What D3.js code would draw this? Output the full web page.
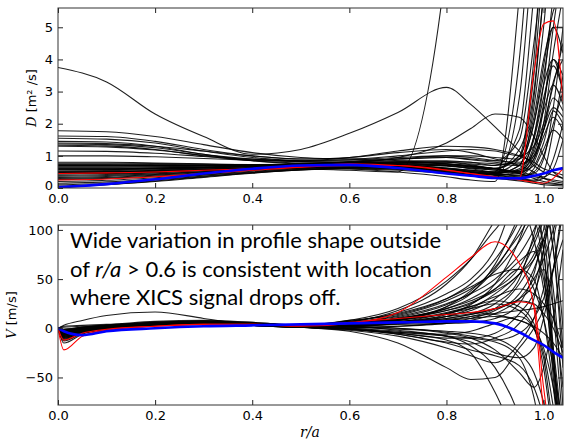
<!DOCTYPE html>
<html>
<head>
<meta charset="utf-8">
<script src="https://cdn.jsdelivr.net/npm/d3@7/dist/d3.min.js"></script>
<style>
  body { margin: 0; background: #fff; }
  .tick text { font-family: "DejaVu Sans", sans-serif; font-size: 13px; fill: #000; }
  .tick line { stroke: #222; }
</style>
</head>
<body>
<div id="chart"></div>
<script>
// ---- data ----
// radial knots (r/a) for the D profiles
const xKnotsD = [0, 0.1, 0.2, 0.3, 0.4, 0.5, 0.6, 0.7, 0.8, 0.85, 0.9, 0.95, 0.98, 1.0, 1.02, 1.04];
// black D samples [m^2/s]
const dBlack = [
  [3.75, 3.3, 2.3, 1.6, 1.05, 1.2, 1.7, 2.35, 3.13, 2.6, 1.9, 1.15, 0.7, 0.5, 0.4, 0.3],
  [0.6, 0.6, 0.62, 0.65, 0.7, 0.75, 0.8, 0.95, 1.4, 1.85, 2.3, 2.2, 1.6, 1.0, 0.5, 0.3],
  [0.5, 0.5, 0.55, 0.6, 0.62, 0.6, 0.55, 0.5, 7, 15, 20, 20, 20, 20, 20, 20],
  [1.78, 1.75, 1.6, 1.35, 1.1, 0.95, 0.9, 0.85, 0.75, 0.65, 0.6, 1.2, 3.0, 6, 8, 9],
  [1.62, 1.6, 1.45, 1.2, 1.0, 0.9, 0.95, 1.1, 1.2, 1.1, 0.9, 0.7, 0.5, 0.3, 0.2, 0.15],
  [1.55, 1.52, 1.4, 1.15, 0.95, 0.85, 0.85, 0.9, 0.95, 0.9, 0.85, 1.5, 4.5, 7, 9, 9],
  [1.45, 1.43, 1.3, 1.05, 0.85, 0.75, 0.72, 0.75, 0.7, 0.6, 0.5, 0.5, 1.2, 2.6, 4.0, 3.5],
  [1.4, 1.38, 1.3, 1.15, 1.0, 0.9, 0.9, 1.0, 1.15, 1.2, 1.15, 1.0, 1.3, 2.0, 3.2, 4.5],
  [1.37, 1.35, 1.25, 1.05, 0.9, 0.85, 0.95, 1.15, 1.3, 1.28, 1.2, 1.0, 0.8, 0.6, 0.5, 0.4],
  [1.33, 1.31, 1.2, 1.0, 0.85, 0.78, 0.8, 0.85, 0.85, 0.8, 0.7, 0.9, 2.2, 4.0, 5.0, 4.2],
  [1.3, 1.28, 1.18, 1.02, 0.9, 0.85, 0.88, 0.95, 1.0, 0.95, 0.85, 0.8, 1.6, 3.2, 6, 8],
  [1.15, 1.14, 1.08, 0.98, 0.88, 0.82, 0.8, 0.8, 0.75, 0.7, 0.6, 0.45, 0.3, 0.2, 0.15, 0.1],
  [1.0, 1.0, 0.97, 0.92, 0.86, 0.82, 0.8, 0.78, 0.72, 0.68, 0.62, 1.0, 2.8, 6, 8, 8],
  [0.8, 0.8, 0.78, 0.75, 0.72, 0.7, 0.72, 0.78, 0.8, 0.75, 0.7, 1.8, 6, 9, 9, 9],
  [0.77, 0.77, 0.76, 0.74, 0.73, 0.74, 0.78, 0.82, 0.8, 0.72, 0.6, 0.5, 0.9, 1.8, 3.3, 4.0],
  [0.74, 0.74, 0.73, 0.72, 0.72, 0.73, 0.75, 0.72, 0.6, 0.5, 0.4, 0.35, 0.5, 1.0, 2.0, 3.0],
  [0.72, 0.72, 0.71, 0.71, 0.72, 0.75, 0.82, 0.9, 0.95, 0.88, 0.8, 0.75, 1.0, 1.8, 2.5, 2.2],
  [0.71, 0.71, 0.7, 0.7, 0.71, 0.74, 0.8, 0.9, 1.0, 1.0, 0.95, 0.9, 2.0, 3.8, 5.5, 6],
  [0.68, 0.68, 0.68, 0.69, 0.7, 0.72, 0.73, 0.7, 0.6, 0.52, 0.45, 0.6, 1.5, 2.8, 3.8, 3.0],
  [0.65, 0.65, 0.66, 0.68, 0.7, 0.74, 0.78, 0.8, 0.75, 0.68, 0.6, 0.5, 0.4, 0.35, 0.6, 1.5],
  [0.62, 0.62, 0.63, 0.65, 0.68, 0.7, 0.7, 0.65, 0.55, 0.48, 0.42, 0.45, 0.9, 2.0, 4.2, 6],
  [0.6, 0.6, 0.61, 0.64, 0.68, 0.72, 0.76, 0.8, 0.82, 0.8, 0.75, 0.7, 1.1, 2.5, 5, 7],
  [0.58, 0.58, 0.6, 0.63, 0.67, 0.72, 0.75, 0.72, 0.62, 0.55, 0.48, 0.55, 1.6, 3.2, 4.0, 3.0],
  [0.56, 0.57, 0.59, 0.62, 0.66, 0.7, 0.72, 0.7, 0.62, 0.55, 0.5, 0.9, 3.5, 7, 9, 9],
  [0.53, 0.54, 0.57, 0.62, 0.67, 0.72, 0.76, 0.76, 0.7, 0.62, 0.55, 0.45, 0.35, 0.3, 0.25, 0.2],
  [0.5, 0.51, 0.54, 0.58, 0.63, 0.68, 0.72, 0.72, 0.68, 0.62, 0.56, 0.5, 0.7, 1.4, 2.4, 2.0],
  [0.48, 0.49, 0.52, 0.57, 0.62, 0.68, 0.7, 0.66, 0.55, 0.48, 0.4, 0.3, 0.25, 0.5, 1.8, 3.5],
  [0.44, 0.45, 0.49, 0.55, 0.62, 0.68, 0.7, 0.66, 0.56, 0.5, 0.45, 0.7, 2.5, 5.0, 8, 9],
  [0.4, 0.42, 0.47, 0.54, 0.61, 0.67, 0.7, 0.68, 0.6, 0.55, 0.5, 0.55, 1.0, 1.8, 2.8, 2.4],
  [0.37, 0.39, 0.44, 0.51, 0.58, 0.64, 0.66, 0.62, 0.5, 0.42, 0.33, 0.25, 0.2, 0.15, 0.12, 0.1],
  [0.33, 0.36, 0.42, 0.5, 0.58, 0.65, 0.7, 0.72, 0.7, 0.66, 0.6, 1.0, 4.0, 8, 9, 9],
  [0.3, 0.33, 0.4, 0.48, 0.56, 0.62, 0.64, 0.6, 0.52, 0.46, 0.4, 0.5, 1.3, 2.4, 3.2, 2.6],
  [0.26, 0.3, 0.37, 0.46, 0.55, 0.62, 0.66, 0.64, 0.56, 0.5, 0.44, 0.38, 0.45, 0.9, 2.5, 5],
  [0.2, 0.24, 0.32, 0.42, 0.52, 0.6, 0.64, 0.62, 0.55, 0.5, 0.45, 0.4, 0.8, 1.6, 2.2, 1.8],
  [0.15, 0.19, 0.28, 0.4, 0.5, 0.58, 0.62, 0.6, 0.5, 0.42, 0.35, 0.28, 0.22, 0.3, 0.9, 2.0],
  [0.1, 0.15, 0.25, 0.37, 0.48, 0.57, 0.6, 0.55, 0.45, 0.38, 0.3, 0.22, 0.15, 0.1, 0.08, 0.06],
  [0.06, 0.11, 0.22, 0.35, 0.47, 0.56, 0.62, 0.62, 0.56, 0.5, 0.45, 0.7, 2.0, 3.5, 5, 5],
  [0.04, 0.1, 0.2, 0.33, 0.46, 0.56, 0.6, 0.58, 0.48, 0.42, 0.35, 0.3, 0.6, 1.2, 1.8, 1.5],
  [0.5, 0.5, 0.52, 0.55, 0.6, 0.65, 0.6, 0.5, 0.35, 0.25, 0.2, 6, 12, 15, 15, 15],
  [0.7, 0.7, 0.7, 0.7, 0.7, 0.7, 0.7, 0.65, 0.5, 0.4, 0.5, 4.0, 10, 15, 15, 15],
  [0.45, 0.46, 0.5, 0.56, 0.63, 0.7, 0.75, 0.7, 0.55, 0.45, 0.3, 2.8, 8, 12, 12, 12]
];
const dRed = [
  [0.45, 0.47, 0.5, 0.55, 0.6, 0.65, 0.7, 0.7, 0.56, 0.45, 0.32, 0.3, 3.6, 5.1, 5.2, 2.7],
  [0.25, 0.28, 0.35, 0.45, 0.55, 0.65, 0.75, 0.7, 0.55, 0.45, 0.35, 0.25, 0.18, 0.15, 0.3, 0.6]
];
const dBlue = [0.02, 0.12, 0.27, 0.45, 0.6, 0.7, 0.72, 0.62, 0.45, 0.38, 0.31, 0.3, 0.38, 0.45, 0.55, 0.62];

// radial knots for the V profiles
const xKnotsV = [0, 0.012, 0.05, 0.1, 0.2, 0.3, 0.4, 0.5, 0.6, 0.7, 0.8, 0.85, 0.9, 0.95, 0.98, 1.0, 1.02, 1.04];
// black V samples [m/s]
const vBlack = [
  [0, 3, 8, 13, 16.5, 10, 3, 1, 2, 5, 10, 14, 20, 30, 45, 80, 130, 150],
  [0, -15, -6, -1, 3, 5, 4, 2, 6, 18, 45, 70, 110, 150, 140, 80, -40, -150],
  [0, -10, -4, 0, 4, 6, 5, 3, 8, 14, 30, 45, 70, 110, 150, 130, 20, -100],
  [0, -7, -3, 1, 5, 6, 5, 2, 3, 8, 22, 38, 62, 95, 115, 80, -30, -150],
  [0, -4, -1, 2, 6, 7, 5, 3, 5, 10, 18, 25, 40, 60, 50, 10, -60, -150],
  [0, 2, 3, 4, 7, 8, 6, 3, 2, 5, 12, 20, 35, 55, 70, 90, 120, 150],
  [0, -12, -5, 0, 3, 4, 3, 1, -2, -8, -20, -28, -35, -15, 10, 40, 90, 140],
  [0, -8, -3, 0, 4, 5, 4, 1, -3, -15, -40, -52, -50, -20, 0, 20, 60, 120],
  [0, -5, -2, 1, 5, 6, 4, 1, -1, -5, -12, -25, -65, -120, -150, -150, -150, -150],
  [0, -3, 0, 2, 5, 6, 4, 2, 0, -3, -8, -18, -40, -90, -140, -150, -150, -150],
  [0, -9, -4, 0, 4, 5, 4, 2, 4, 8, 15, 22, 32, 40, 35, 25, 10, -20],
  [0, -6, -2, 1, 5, 6, 5, 3, 5, 7, 10, 14, 20, 28, 25, 15, 0, -25],
  [0, 1, 2, 3, 6, 7, 5, 2, 1, 0, -4, -8, -12, -5, 10, 30, 60, 90],
  [0, -2, 0, 2, 5, 6, 5, 3, 4, 6, 9, 12, 15, 18, 20, 22, 25, 28],
  [0, -11, -5, -1, 3, 5, 4, 2, 7, 15, 30, 42, 55, 60, 40, 10, -40, -100],
  [0, -4, -1, 2, 5, 7, 6, 3, 8, 20, 48, 70, 100, 125, 90, 40, -30, -120],
  [0, -6, -2, 1, 4, 5, 3, 1, 3, 6, 12, 18, 30, 55, 85, 110, 140, 150],
  [0, -3, 0, 2, 4, 4, 3, 1, -1, -5, -10, -10, -5, 15, 35, 60, 20, -60],
  [0, -8, -3, 0, 3, 4, 3, 1, 0, 2, 6, 10, 18, 35, 60, 90, 140, 150],
  [0, -2, 1, 3, 6, 7, 5, 2, 3, 5, 8, 10, 12, 8, 0, -20, -60, -120],
  [0, -5, -2, 1, 4, 5, 4, 2, -1, -6, -15, -22, -28, -38, -60, -90, -130, -150],
  [0, -9, -4, 0, 3, 5, 4, 2, 6, 12, 25, 35, 50, 75, 100, 120, 80, -20],
  [0, -1, 1, 3, 5, 6, 5, 3, 4, 8, 16, 22, 28, 22, 5, -25, -80, -150],
  [0, -13, -5, 0, 4, 5, 4, 2, 2, 0, -5, -10, -22, -45, -60, -40, 10, 80],
  [0, -7, -3, 0, 3, 5, 4, 2, 5, 10, 20, 28, 40, 62, 90, 115, 150, 150],
  [0, -4, -1, 2, 5, 6, 4, 2, 4, 9, 14, 16, 14, 8, 2, -5, -15, -30],
  [0, -6, -2, 1, 4, 5, 3, 1, 2, 4, 5, 6, 10, 25, 55, 90, 40, -80],
  [0, -3, 0, 2, 5, 7, 5, 3, 6, 13, 28, 40, 58, 88, 110, 60, -50, -150],
  [0, -10, -4, 0, 3, 4, 3, 1, -1, -4, -8, -10, -14, -30, -70, -120, -150, -150],
  [0, -2, 1, 3, 5, 6, 5, 3, 6, 10, 20, 30, 45, 68, 78, 50, -20, -110],
  [0, -5, -2, 1, 4, 6, 5, 3, 5, 11, 24, 36, 60, 100, 130, 150, 150, 150],
  [0, -4, -2, 1, 4, 5, 4, 2, 3, 6, 14, 24, 45, 90, 130, 150, 150, 150],
  [0, -6, -3, 0, 3, 5, 4, 2, 4, 9, 22, 35, 65, 115, 150, 150, 100, 0],
  [0, -2, 0, 2, 4, 5, 4, 2, 1, 2, 5, 8, 15, 30, 50, 70, 100, 130],
  [0, -8, -3, 0, 3, 5, 4, 2, 3, 5, 8, 12, 20, 45, 70, 90, -20, -150],
  [0, -5, -2, 1, 4, 6, 5, 3, 2, -2, -8, -14, -25, -30, -20, 10, 60, 130],
  [0, -3, -1, 1, 4, 5, 4, 2, 0, -4, -6, -3, 5, 12, 0, -40, -110, -150],
  [0, -7, -3, 0, 3, 4, 3, 1, 2, 6, 15, 20, 25, 18, 0, -30, -100, -150],
  [0, -1, 1, 3, 5, 6, 5, 3, 5, 9, 18, 26, 38, 55, 75, 100, 140, 150],
  [0, -9, -4, 0, 3, 5, 4, 2, 1, -1, -3, -5, -10, -25, -45, -75, -120, -150],
  [0, -4, -1, 2, 5, 6, 5, 3, 4, 7, 12, 15, 25, 50, 95, 130, 80, -40],
  [0, -6, -2, 1, 4, 6, 5, 3, 7, 16, 35, 50, 80, 140, 150, 150, 150, 150],
  [0, -3, 0, 2, 4, 5, 4, 2, -1, -6, -14, -16, -10, 5, 30, 80, 130, 150]
];
const vRed = [
  [0, -22, -8, -2, 2, 4, 4, 2, 5, 16, 52, 72, 88, 66, 22, -85, -150, -150],
  [0, -12, -5, -1, 2, 4, 4, 3, 6, 10, 14, 16, 20, 27, 24, -60, -120, -120]
];
const vBlue = [0, -3, -7, -3, 0, 2, 3, 4, 5, 6, 7, 7, 5, -4, -12, -17, -24, -30];

const xTicks = [0, 0.2, 0.4, 0.6, 0.8, 1.0];
const dTicks = [0, 1, 2, 3, 4, 5];
const vTicks = [-50, 0, 50, 100];
const note = ["Wide variation in profile shape outside",
              ["of ", "r/a", " > 0.6 is consistent with location"],
              "where XICS signal drops off."];

// ---- drawing ----
const svg = d3.select("#chart").append("svg").attr("width", 565).attr("height", 440);

const x = d3.scaleLinear().domain([0, 1.04]).range([58, 563]);
const yD = d3.scaleLinear().domain([0, 5.6]).range([188, 8]);
const yV = d3.scaleLinear().domain([-78, 105]).range([405, 225]);

function panel(id, y, knots, black, red, blue, ticks) {
  const [y1, y0] = y.range();
  svg.append("clipPath").attr("id", id).append("rect")
    .attr("x", 58).attr("y", y0).attr("width", 505).attr("height", y1 - y0);

  const line = d3.line()
    .x((d, i) => x(knots[i]))
    .y(d => y(d))
    .curve(d3.curveMonotoneX);

  const g = svg.append("g").attr("clip-path", `url(#${id})`);
  g.selectAll(".blk").data(black).enter().append("path")
    .attr("d", line).attr("fill", "none")
    .attr("stroke", "#000").attr("stroke-opacity", 0.88).attr("stroke-width", 1.1);
  g.selectAll(".red").data(red).enter().append("path")
    .attr("d", line).attr("fill", "none")
    .attr("stroke", "#ff0000").attr("stroke-width", 1.1);
  g.append("path").datum(blue)
    .attr("d", line).attr("fill", "none")
    .attr("stroke", "#0000ff").attr("stroke-width", 2.6);

  // axes, ticks pointing inward on all sides
  svg.append("g").attr("transform", `translate(0,${y1})`)
    .call(d3.axisBottom(x).tickValues(xTicks).tickSize(-5).tickPadding(6).tickFormat(d3.format(".1f")));
  svg.append("g").attr("transform", `translate(0,${y0})`)
    .call(d3.axisTop(x).tickValues(xTicks).tickSize(-5).tickFormat(""));
  svg.append("g").attr("transform", "translate(58,0)")
    .call(d3.axisLeft(y).tickValues(ticks).tickSize(-5).tickPadding(5).tickFormat(d3.format("d")));
  svg.append("g").attr("transform", "translate(563,0)")
    .call(d3.axisRight(y).tickValues(ticks).tickSize(-5).tickFormat(""));
  svg.selectAll(".domain").remove();

  svg.append("rect").attr("x", 58).attr("y", y0).attr("width", 505).attr("height", y1 - y0)
    .attr("fill", "none").attr("stroke", "#333").attr("stroke-width", 1);
}

panel("clipD", yD, xKnotsD, dBlack, dRed, dBlue, dTicks);
panel("clipV", yV, xKnotsV, vBlack, vRed, vBlue, vTicks);

// the "0" label of the upper panel sits just above the "0.0" below it
svg.selectAll("g.tick text").filter(function () { return this.textContent === "0" && +this.parentNode.getAttribute("transform").match(/,([\d.]+)\)/)[1] < 200; })
  .attr("dy", "0.1em");

// y labels
const lab = (xp, yp, sym, rest) => {
  const t = svg.append("text")
    .attr("transform", `translate(${xp},${yp}) rotate(-90)`)
    .attr("text-anchor", "middle")
    .style("font-family", "DejaVu Sans, sans-serif").style("font-size", "13px");
  t.append("tspan").text(sym).style("font-family", "DejaVu Serif, serif").style("font-style", "italic");
  t.append("tspan").text(rest);
};
lab(36, 98, "D", " [m\u00B2 /s]");
lab(16, 315, "V", " [m/s]");

svg.append("text").attr("x", 310).attr("y", 437).attr("text-anchor", "middle")
  .style("font-family", "DejaVu Serif, serif").style("font-style", "italic").style("font-size", "14px")
  .text("r/a");

// annotation
const ann = svg.append("g").style("font-family", "Lato, sans-serif").style("font-size", "22px").attr("fill", "#000");
ann.append("text").attr("x", 70).attr("y", 248).text(note[0]);
const l2 = ann.append("text").attr("x", 70).attr("y", 277);
l2.append("tspan").text(note[1][0]);
l2.append("tspan").text(note[1][1]).style("font-style", "italic");
l2.append("tspan").text(note[1][2]);
ann.append("text").attr("x", 70).attr("y", 305).text(note[2]);
</script>
</body>
</html>
